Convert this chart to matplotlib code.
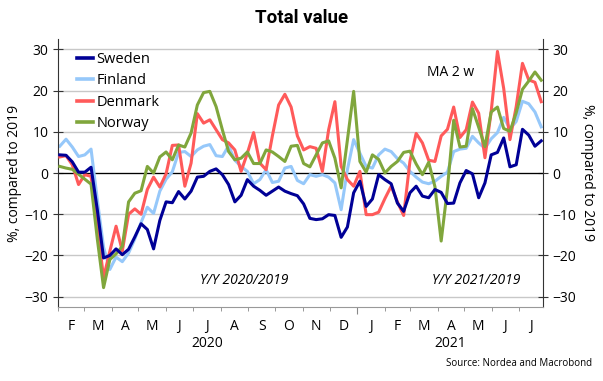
import pandas as pd
import matplotlib
matplotlib.use("Agg")
import matplotlib.pyplot as plt
import matplotlib.dates as mdates
import matplotlib.transforms as mtransforms

plt.rcParams["font.family"] = ["Open Sans", "DejaVu Sans"]

# -----------------------
# DATA (weekly, MA 2 w, % vs 2019)
# -----------------------
weeks = pd.date_range("2020-02-03", periods=78, freq="7D")

sweden = [4.4, 4.3, 2.7, 0.2, 0.2, 1.4, -8.9, -20.6, -20.0, -18.4,
          -19.8, -18.5, -15.5, -12.3, -13.7, -18.4, -11.5, -7.0, -7.2, -4.5,
          -6.3, -4.4, -1.0, -0.8, 0.4, 1.0, -0.4, -2.8, -7.0, -5.4,
          -1.6, -3.2, -4.2, -5.4, -4.4, -3.4, -4.4, -5.0, -5.5, -7.5,
          -11.0, -11.3, -11.1, -10.1, -10.3, -15.6, -13.1, -4.8, -2.0, -8.1,
          -6.3, -0.4, -1.6, -2.6, -7.3, -9.3, -4.8, -3.2, -5.6, -6.0,
          -4.0, -4.7, -7.4, -7.3, -2.4, 0.6, -0.2, -6.0, -2.4, 4.4,
          5.0, 8.5, 1.5, 2.0, 10.6, 9.2, 6.5, 7.8]

finland = [6.5, 8.2, 6.3, 4.0, 4.4, 5.8, -6.5, -18.0, -23.4, -20.4,
           -21.5, -19.4, -16.0, -12.0, -8.3, -9.8, -4.4, -1.5, 0.3, 5.0,
           5.2, 4.0, 5.6, 6.5, 6.9, 4.2, 4.0, 6.6, 3.1, 1.6,
           0.4, -2.6, -1.6, 0.8, -2.3, -2.0, 1.2, 1.6, -1.8, -2.6,
           -0.4, -0.8, -0.4, -1.0, -2.4, -8.9, 0.8, 8.1, 4.8, 1.6,
           1.2, 4.4, 5.8, 5.2, 3.5, 2.4, 0.4, -1.0, -2.2, -2.6,
           -2.0, -0.8, 0.2, 5.2, 5.8, 6.0, 8.9, 7.3, 6.0, 8.3,
           9.8, 13.5, 10.7, 12.5, 17.4, 16.8, 14.8, 11.2]

denmark = [3.9, 4.2, 2.0, -2.8, -0.4, -0.8, -12.8, -25.4, -19.0, -12.9,
           -18.9, -10.0, -8.7, -10.0, -4.0, -1.0, -3.4, -0.2, 6.7, 6.8,
           -3.2, 2.4, 14.4, 12.1, 12.9, 10.5, 8.1, 7.3, 5.6, 0.4,
           4.8, 9.8, 2.4, 0.8, 9.0, 16.5, 19.1, 16.0, 9.0, 5.6,
           6.4, 6.0, 0.4, 10.5, 17.3, 1.6, -1.6, -3.2, 0.4, -10.1,
           -10.1, -9.5, -6.2, -3.2, -7.0, -10.3, 2.8, 9.6, 7.3, 3.1,
           2.8, 9.0, 10.6, 16.0, 8.6, 10.5, 17.2, 14.5, 3.7, 15.0,
           29.5, 20.5, 8.1, 16.1, 26.6, 22.6, 22.0, 17.3]

norway = [1.6, 1.2, 0.9, -0.3, -1.5, -2.7, -16.0, -27.8, -21.0, -19.6,
          -17.8, -7.0, -4.9, -4.3, 1.6, 0.0, 3.9, 5.1, 3.2, 6.8,
          6.3, 9.7, 16.5, 19.5, 19.8, 16.1, 10.5, 5.2, 3.2, 3.6,
          5.1, 2.3, 2.3, 5.6, 5.1, 4.0, 2.8, 6.5, 6.7, 2.3,
          1.5, 4.4, 7.3, 7.8, 3.6, -3.6, 8.0, 19.8, 2.8, 0.2,
          4.4, 3.3, 0.0, 1.6, 2.8, 5.0, 5.3, 2.2, -0.4, 2.6,
          -3.3, -16.5, -3.8, 12.8, 6.3, 6.5, 15.6, 11.1, 6.4, 14.8,
          16.0, 10.8, 10.1, 14.6, 20.3, 22.3, 24.5, 22.5]

countries = ["Sweden", "Finland", "Denmark", "Norway"]
colors = ["#000096", "#96c8fa", "#ff5a5a", "#80a63c"]
y_ticks = [-30, -20, -10, 0, 10, 20, 30]
month_letters = ["J", "F", "M", "A", "M", "J", "J", "A", "S", "O", "N", "D"]

x_start = pd.Timestamp("2020-02-01")
x_end = pd.Timestamp("2021-07-28")

# -----------------------
# FIGURE
# -----------------------
fig = plt.figure(figsize=(6.03, 3.81), dpi=100)
ax = fig.add_axes([0.0962, 0.1942, 0.8043, 0.7034])

series = [sweden, finland, denmark, norway]
zorders = [5, 2, 3, 4]
for name, vals, col, z in zip(countries, series, colors, zorders):
    ax.plot(weeks, vals, color=col, lw=2.2, label=name, zorder=z)

ax.set_xlim(x_start, x_end)
ax.set_ylim(-32.5, 32.5)
ax.set_yticks(y_ticks)
ax.yaxis.grid(True, color="#c8c8c8", lw=1)
ax.set_axisbelow(True)
ax.axhline(0, color="black", lw=0.9, zorder=1.5)

ax.spines["top"].set_visible(False)
ax.spines["bottom"].set_color("#999999")
ax.spines["left"].set_color("#333333")
ax.spines["right"].set_color("#333333")

ax.tick_params(axis="y", direction="inout", length=7, labelsize=10,
               left=True, right=True, labelleft=True, labelright=True,
               color="#333333")

# month ticks + slightly longer year tick
ax.xaxis.set_major_locator(mdates.YearLocator())
ax.xaxis.set_minor_locator(mdates.MonthLocator())
ax.xaxis.set_major_formatter(plt.NullFormatter())
ax.tick_params(axis="x", which="minor", length=3, color="#888888", direction="out")
ax.tick_params(axis="x", which="major", length=5, color="#888888", direction="out")

trans = mtransforms.blended_transform_factory(ax.transData, ax.transAxes)
x0, x1 = ax.get_xlim()
for ms in pd.date_range(x_start, x_end, freq="MS"):
    me = ms + pd.offsets.MonthBegin(1)
    a = max(mdates.date2num(ms), x0)
    b = min(mdates.date2num(me), x1)
    ax.text((a + b) / 2, -0.072, month_letters[ms.month - 1], transform=trans,
            ha="center", va="center", fontsize=10)

jan21 = mdates.date2num(pd.Timestamp("2021-01-01"))
ax.text((x0 + jan21) / 2, -0.135, "2020", transform=trans, ha="center", va="center", fontsize=10)
ax.text((jan21 + x1) / 2, -0.135, "2021", transform=trans, ha="center", va="center", fontsize=10)

# legend
leg = ax.legend(loc="upper left", bbox_to_anchor=(0.04, 0.953), frameon=False, fontsize=10.5,
                handlelength=1.1, handletextpad=0.2, labelspacing=0.45,
                borderaxespad=0.0, borderpad=0.0)
for h in leg.get_lines():
    h.set_linewidth(2.6)

# annotations
ax.text(0.81, 0.875, "MA 2 w", transform=ax.transAxes, ha="center", va="center", fontsize=10)
ax.text(0.3835, 0.10, "Y/Y 2020/2019", transform=ax.transAxes, ha="center", va="center",
        fontsize=10, style="italic")
ax.text(0.862, 0.10, "Y/Y 2021/2019", transform=ax.transAxes, ha="center", va="center",
        fontsize=10, style="italic")

# titles / labels
fig.text(0.5, 1 - 18 / 381, "Total value", ha="center", va="center",
         fontsize=13.5, fontweight="bold", family="Roboto")
fig.text(15 / 603, 1 - 173 / 381, "%, compared to 2019", rotation=90,
         ha="center", va="center", fontsize=10)
fig.text(588 / 603, 1 - 173 / 381, "%, compared to 2019", rotation=270,
         ha="center", va="center", fontsize=10)
fig.text(592 / 603, 1 - 364 / 381, "Source: Nordea and Macrobond", ha="right",
         va="center", fontsize=7)

fig.savefig("out.png", dpi=100)
